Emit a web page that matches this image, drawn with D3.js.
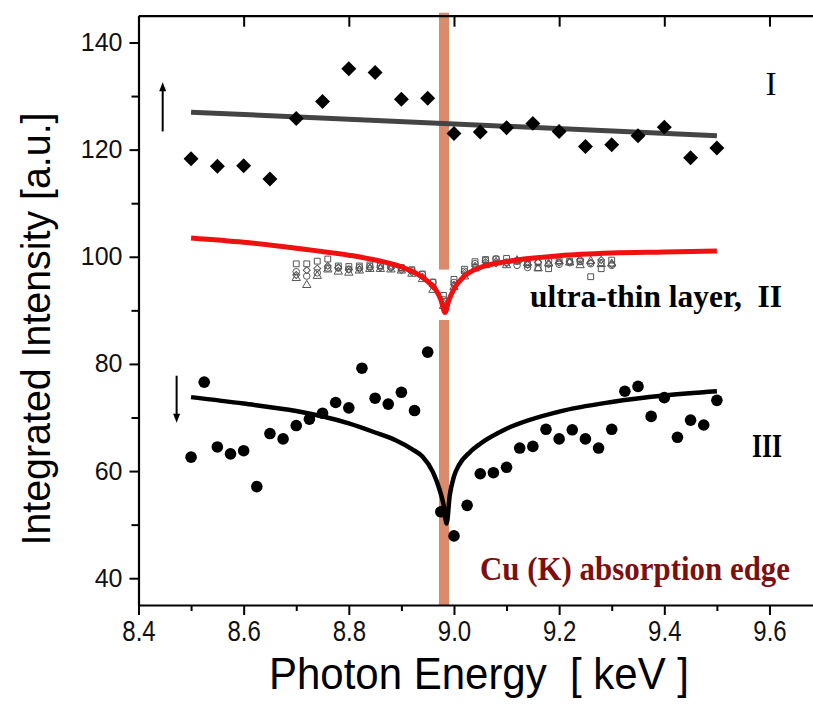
<!DOCTYPE html>
<html>
<head>
<meta charset="utf-8">
<script src="https://cdn.jsdelivr.net/npm/d3@7"></script>
<style>
  html, body { margin: 0; padding: 0; background: #fff; }
  svg { display: block; }
</style>
</head>
<body>
<svg id="chart" width="813" height="704"></svg>
<script>
/////////////////////////////////
// Integrated intensity vs photon energy around the Cu K edge.
//

// Axis ticks.
const xTicks = [8.4, 8.6, 8.8, 9.0, 9.2, 9.4, 9.6];
const xMinorTicks = [8.5, 8.7, 8.9, 9.1, 9.3, 9.5];
const yTicks = [40, 60, 80, 100, 120, 140];
const yMinorTicks = [50, 70, 90, 110, 130];

// Cu K absorption edge (keV).
const edgeEnergy = [8.981];

// Series I (diamonds) and its linear fit.
const energyI = [8.50, 8.55, 8.60, 8.65, 8.70, 8.75, 8.80, 8.85, 8.90, 8.95, 9.00,
                 9.05, 9.10, 9.15, 9.20, 9.25, 9.30, 9.35, 9.40, 9.45, 9.50];
const intensityI = [118.3, 116.9, 117.0, 114.5, 125.8, 129.0, 135.1, 134.4, 129.4, 129.6, 123.0,
                    123.3, 124.1, 124.9, 123.4, 120.6, 120.9, 122.6, 124.2, 118.5, 120.3];
const fitEnergyI = [8.5, 9.5];
const fitIntensityI = [127.0, 122.6];

// Series II, ultra-thin layer (four open-symbol scans) and its fit.
const energyII = [8.70, 8.72, 8.74, 8.76, 8.78, 8.80, 8.82, 8.84, 8.86, 8.88, 8.90,
                  8.92, 8.94, 8.96, 8.98, 9.00, 9.02, 9.04, 9.06, 9.08, 9.10,
                  9.12, 9.14, 9.16, 9.18, 9.20, 9.22, 9.24, 9.26, 9.28, 9.30];
const squaresII = [98.4, 98.4, 98.9, 99.3, 98.0, 97.9, 98.0, 98.2, 98.1, 98.0, 97.7,
                   97.3, 96.5, 95.0, 92.5, 95.5, 97.4, 98.8, 99.2, 99.3, 99.4,
                   98.9, 98.3, 97.7, 97.5, 99.0, 98.9, 98.8, 96.0, 97.5, 99.1];
const trianglesII = [96.2, 94.9, 96.6, 97.8, 97.4, 97.2, 97.6, 97.9, 97.9, 97.8, 97.6,
                     97.0, 96.0, 94.0, 91.0, 94.5, 96.5, 98.0, 98.6, 99.2, 98.6,
                     99.5, 99.0, 98.0, 98.9, 99.3, 99.1, 98.6, 99.4, 98.8, 98.9];
const circlesII = [97.2, 96.4, 97.0, 97.9, 97.9, 97.7, 98.0, 98.2, 98.3, 98.1, 97.9,
                   97.4, 96.7, 95.2, 92.0, 95.2, 97.3, 98.7, 99.3, 99.6, 99.0,
                   98.4, 98.0, 98.9, 99.2, 98.6, 98.9, 99.2, 98.7, 98.9, 98.4];
const diamondsII = [96.6, 97.5, 97.8, 98.3, 98.0, 97.6, 97.7, 97.9, 98.0, 97.9, 97.5,
                    97.1, 96.3, 94.5, 91.5, 94.8, 97.0, 98.3, 99.0, 98.8, 98.8,
                    99.2, 98.5, 99.0, 98.6, 98.9, 99.1, 99.5, 98.9, 99.4, 98.6];
const fitEnergyII = [8.50, 8.60, 8.70, 8.80, 8.85, 8.90, 8.93, 8.95, 8.965, 8.975, 8.983,
                     8.99, 9.00, 9.02, 9.05, 9.10, 9.20, 9.30, 9.40, 9.50];
const fitIntensityII = [103.5, 102.7, 101.6, 100.3, 99.4, 98.1, 96.8, 95.4, 93.9, 92.0, 89.6,
                        91.8, 94.0, 96.4, 98.0, 99.1, 100.2, 100.7, 100.9, 101.1];

// Series III (filled circles) and its fit.
const energyIII = [8.500, 8.525, 8.550, 8.575, 8.600, 8.625, 8.650, 8.675, 8.700, 8.725,
                   8.750, 8.775, 8.800, 8.825, 8.850, 8.875, 8.900, 8.925, 8.950, 8.975,
                   9.000, 9.025, 9.050, 9.075, 9.100, 9.125, 9.150, 9.175, 9.200, 9.225,
                   9.250, 9.275, 9.300, 9.325, 9.350, 9.375, 9.400, 9.425, 9.450, 9.475, 9.500];
const intensityIII = [62.6, 76.6, 64.5, 63.2, 63.8, 57.1, 67.0, 66.0, 68.5, 69.7,
                      70.8, 72.8, 71.8, 79.2, 73.6, 72.5, 74.7, 71.3, 82.2, 52.4,
                      47.9, 53.6, 59.5, 59.7, 60.7, 64.3, 64.6, 67.8, 66.0, 67.7,
                      66.0, 64.3, 67.8, 74.9, 75.8, 70.2, 73.7, 66.3, 69.5, 68.6, 73.2];
const fitEnergyIII = [8.50, 8.60, 8.70, 8.80, 8.85, 8.89, 8.92, 8.94, 8.96, 8.972, 8.98,
                      8.986, 8.992, 9.00, 9.01, 9.03, 9.05, 9.10, 9.20, 9.30, 9.40, 9.50];
const fitIntensityIII = [73.8, 72.6, 71.2, 68.9, 67.2, 65.7, 64.1, 62.7, 59.8, 56.7, 53.8,
                         50.2, 55.5, 59.0, 61.2, 63.5, 65.1, 67.9, 71.1, 72.9, 74.1, 74.9];

// Labels.
const xTitle = "Photon Energy  [ keV ]";
const yTitle = "Integrated Intensity [a.u.]";

document.addEventListener("DOMContentLoaded", () => {

    const svg = d3.select("#chart");

    const left = 138.5, top = 15.7, bottom = 605;
    // The right edge of the frame falls outside the picture.
    const x = d3.scaleLinear().domain([8.4, 9.7]).range([left, left + 1.3 * 525.8]);
    const y = d3.scaleLinear().domain([35, 145]).range([bottom, top]);

    const zip = (xs, ys) => xs.map((d, i) => [d, ys[i]]);

    // Absorption edge band.
    svg.selectAll(".edge")
        .data(edgeEnergy)
        .enter()
        .append("rect")
        .attr("class", "edge")
        .attr("x", d => x(d) - 5)
        .attr("y", top - 3)
        .attr("width", 10)
        .attr("height", bottom - top + 3)
        .style("fill", "#da8b6b");

    // White backing of the layer II inset, hides the band behind it.
    svg.append("rect")
        .attr("x", x(8.68))
        .attr("y", y(97.6))
        .attr("width", x(9.32) - x(8.68))
        .attr("height", y(88.2) - y(97.6))
        .style("fill", "#fff");

    // Axes.
    const bottomAxis = svg.append("g")
        .attr("transform", `translate(0,${bottom})`)
        .call(d3.axisBottom(x).tickValues(xTicks).tickSize(10).tickSizeOuter(0)
            .tickPadding(5).tickFormat(d3.format(".1f")));
    bottomAxis.selectAll("text")
        .attr("transform", "scale(0.8,1)")
        .style("font-family", "'Liberation Sans', Arial, sans-serif")
        .style("font-size", "30px")
        .style("fill", "#111");
    svg.append("g")
        .attr("transform", `translate(0,${bottom})`)
        .call(d3.axisBottom(x).tickValues(xMinorTicks).tickSize(6).tickSizeOuter(0).tickFormat(""))
        .call(g => g.select(".domain").remove());

    svg.append("g")
        .attr("transform", `translate(0,${top})`)
        .call(d3.axisTop(x).tickValues(xTicks).tickSize(-11).tickSizeOuter(0).tickFormat(""));

    const leftAxis = svg.append("g")
        .attr("transform", `translate(${left},0)`)
        .call(d3.axisLeft(y).tickValues(yTicks).tickSize(9).tickSizeOuter(0).tickPadding(7));
    leftAxis.selectAll("text")
        .style("font-family", "'Liberation Sans', Arial, sans-serif")
        .style("font-size", "25px")
        .style("fill", "#111");
    svg.append("g")
        .attr("transform", `translate(${left},0)`)
        .call(d3.axisLeft(y).tickValues(yMinorTicks).tickSize(7).tickSizeOuter(0).tickFormat(""))
        .call(g => g.select(".domain").remove());

    svg.selectAll(".domain").style("stroke", "#000").style("stroke-width", 2.2);
    svg.selectAll(".tick line").style("stroke", "#000").style("stroke-width", 2);

    // Axis titles.
    svg.append("text")
        .attr("x", 479)
        .attr("y", 689)
        .attr("text-anchor", "middle")
        .attr("textLength", 420)
        .attr("lengthAdjust", "spacingAndGlyphs")
        .style("white-space", "pre")
        .style("font-family", "'Liberation Sans', Arial, sans-serif")
        .style("font-size", "44px")
        .text(xTitle);

    svg.append("text")
        .attr("transform", "translate(50,329) rotate(-90)")
        .attr("text-anchor", "middle")
        .attr("textLength", 433)
        .attr("lengthAdjust", "spacingAndGlyphs")
        .style("font-family", "'Liberation Sans', Arial, sans-serif")
        .style("font-size", "40px")
        .text(yTitle);

    const line = d3.line().x(d => x(d[0])).y(d => y(d[1]));
    const smooth = d3.line().x(d => x(d[0])).y(d => y(d[1])).curve(d3.curveMonotoneX);

    // Series I.
    svg.append("path")
        .datum(zip(fitEnergyI, fitIntensityI))
        .attr("d", line)
        .style("fill", "none")
        .style("stroke", "#444")
        .style("stroke-width", 5);

    svg.selectAll(".ptI")
        .data(zip(energyI, intensityI))
        .enter()
        .append("path")
        .attr("class", "ptI")
        .attr("transform", d => `translate(${x(d[0])},${y(d[1])}) rotate(45)`)
        .attr("d", d3.symbol().type(d3.symbolSquare).size(112))
        .style("fill", "#000");

    // Series II markers.
    const openSeries = [
        { values: squaresII, type: d3.symbolSquare, size: 34, rot: 0, dy: -1.5 },
        { values: trianglesII, type: d3.symbolTriangle, size: 30, rot: 0, dy: 1 },
        { values: circlesII, type: d3.symbolCircle, size: 34, rot: 0, dy: 0 },
        { values: diamondsII, type: d3.symbolSquare, size: 24, rot: 45, dy: 0 }
    ];
    openSeries.forEach((s) => {

        svg.append("g")
            .selectAll("path")
            .data(zip(energyII, s.values))
            .enter()
            .append("path")
            .attr("transform", d => `translate(${x(d[0])},${y(d[1]) + s.dy}) rotate(${s.rot})`)
            .attr("d", d3.symbol().type(s.type).size(s.size))
            .style("fill", "none")
            .style("stroke", "#555")
            .style("stroke-width", 1);
    });

    svg.append("path")
        .datum(zip(fitEnergyII, fitIntensityII))
        .attr("d", smooth)
        .style("fill", "none")
        .style("stroke", "#f01010")
        .style("stroke-width", 5)
        .style("stroke-linejoin", "round");

    // Series III.
    svg.append("path")
        .datum(zip(fitEnergyIII, fitIntensityIII))
        .attr("d", smooth)
        .style("fill", "none")
        .style("stroke", "#000")
        .style("stroke-width", 4.5)
        .style("stroke-linejoin", "round");

    svg.selectAll(".ptIII")
        .data(zip(energyIII, intensityIII))
        .enter()
        .append("circle")
        .attr("class", "ptIII")
        .attr("cx", d => x(d[0]))
        .attr("cy", d => y(d[1]))
        .attr("r", 5.8)
        .style("fill", "#000");

    // Arrows.
    const arrows = [
        { x: 8.446, from: 123.4, to: 132.6 },
        { x: 8.4725, from: 77.8, to: 69.0 }
    ];
    arrows.forEach((a) => {

        const dir = a.to > a.from ? -1 : 1;
        const x0 = x(a.x), y0 = y(a.from), y1 = y(a.to);
        svg.append("line")
            .attr("x1", x0).attr("x2", x0)
            .attr("y1", y0).attr("y2", y1 - dir * 6)
            .style("stroke", "#000")
            .style("stroke-width", 2);
        svg.append("path")
            .attr("d", `M${x0},${y1} L${x0 - 3.5},${y1 - dir * 9} L${x0 + 3.5},${y1 - dir * 9} Z`)
            .style("fill", "#000");
    });

    // Annotations.
    const serif = "'Liberation Serif', 'Times New Roman', serif";
    svg.append("text")
        .attr("x", 771).attr("y", 95)
        .attr("text-anchor", "middle")
        .style("font-family", serif)
        .style("font-size", "33px")
        .text("I");

    svg.append("text")
        .attr("x", 530).attr("y", 307)
        .attr("textLength", 252)
        .attr("lengthAdjust", "spacingAndGlyphs")
        .style("white-space", "pre")
        .style("font-family", serif)
        .style("font-weight", "bold")
        .style("font-size", "31px")
        .text("ultra-thin layer,  II");

    svg.append("text")
        .attr("x", 752).attr("y", 457)
        .attr("textLength", 30)
        .attr("lengthAdjust", "spacingAndGlyphs")
        .style("font-family", serif)
        .style("font-weight", "bold")
        .style("font-size", "33px")
        .text("III");

    svg.append("text")
        .attr("x", 480).attr("y", 580)
        .attr("textLength", 310)
        .attr("lengthAdjust", "spacingAndGlyphs")
        .style("font-family", serif)
        .style("font-weight", "bold")
        .style("font-size", "33px")
        .style("fill", "#7d0f0f")
        .text("Cu (K) absorption edge");
});
</script>
</body>
</html>
